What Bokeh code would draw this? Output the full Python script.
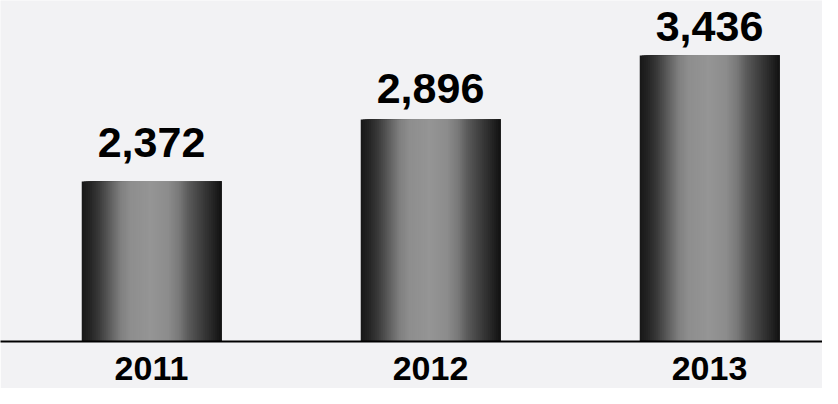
import numpy as np
from bokeh.plotting import figure
from bokeh.models import Range1d, FixedTicker, ColumnDataSource
from bokeh.core.properties import value
from bokeh.embed import file_html
from bokeh.resources import INLINE

# ---- data ----
years = [2011, 2012, 2013]
values = [2372, 2896, 3436]
value_labels = ["2,372", "2,896", "3,436"]
year_labels = ["2011", "2012", "2013"]

# ---- style ----
W, H = 822, 388
BG = "#f2f2f4"
Y_START, Y_END = 1021, 3900
X_START = 2010.4588
X_END = X_START + W / 279.0
BAR_W = 0.5
N_STRIPS = 70
label_offsets = [-38.5, -31, -29]
stops_t = [0.0, 0.05, 0.12, 0.2, 0.28, 0.35, 0.5, 0.62, 0.7, 0.76, 0.85, 0.93, 1.0]
stops_v = [0x18, 0x22, 0x38, 0x5c, 0x80, 0x8e, 0x95, 0x8c, 0x78, 0x5c, 0x40, 0x28, 0x12]

p = figure(width=W, height=H, output_backend="svg", toolbar_location=None,
           x_range=Range1d(X_START, X_END), y_range=Range1d(Y_START, Y_END),
           min_border_left=0, min_border_right=0, min_border_top=0,
           min_border_bottom=47)
p.background_fill_color = BG
p.border_fill_color = BG
p.outline_line_color = None
p.grid.visible = False
p.yaxis.visible = False

# gradient bars: each strip runs from its left edge to the bar's right edge,
# later strips overlay earlier ones (no seams)
lefts, rights, tops, cols = [], [], [], []
sw = BAR_W / N_STRIPS
for yr, v in zip(years, values):
    for i in range(N_STRIPS):
        t = (i + 0.5) / N_STRIPS
        g = int(round(np.interp(t, stops_t, stops_v)))
        lefts.append(yr - BAR_W / 2 + i * sw)
        rights.append(yr + BAR_W / 2)
        tops.append(v)
        cols.append("#%02x%02x%02x" % (g, g, g))
src = ColumnDataSource(dict(left=lefts, right=rights, top=tops, color=cols))
p.quad(left="left", right="right", top="top", bottom=Y_START, color="color",
       source=src, line_color=None)

# value labels
lab = ColumnDataSource(dict(x=years, y=values, text=value_labels, dy=label_offsets))
p.text(x="x", y="y", text="text", source=lab, text_align="center",
       text_baseline="alphabetic", y_offset="dy",
       text_font=value("Liberation Sans"), text_font_style="bold",
       text_font_size="43px", text_color="black")

# x axis (baseline + year labels)
ax = p.xaxis[0]
ax.ticker = FixedTicker(ticks=years)
ax.major_label_overrides = {y: s for y, s in zip(years, year_labels)}
ax.axis_line_color = "black"
ax.axis_line_width = 2
ax.major_tick_line_color = None
ax.minor_tick_line_color = None
ax.major_label_standoff = 9
ax.major_label_text_font = "Liberation Sans"
ax.major_label_text_font_style = "bold"
ax.major_label_text_font_size = "34px"
ax.major_label_text_color = "black"

open("out.html", "w").write(file_html(p, INLINE))
